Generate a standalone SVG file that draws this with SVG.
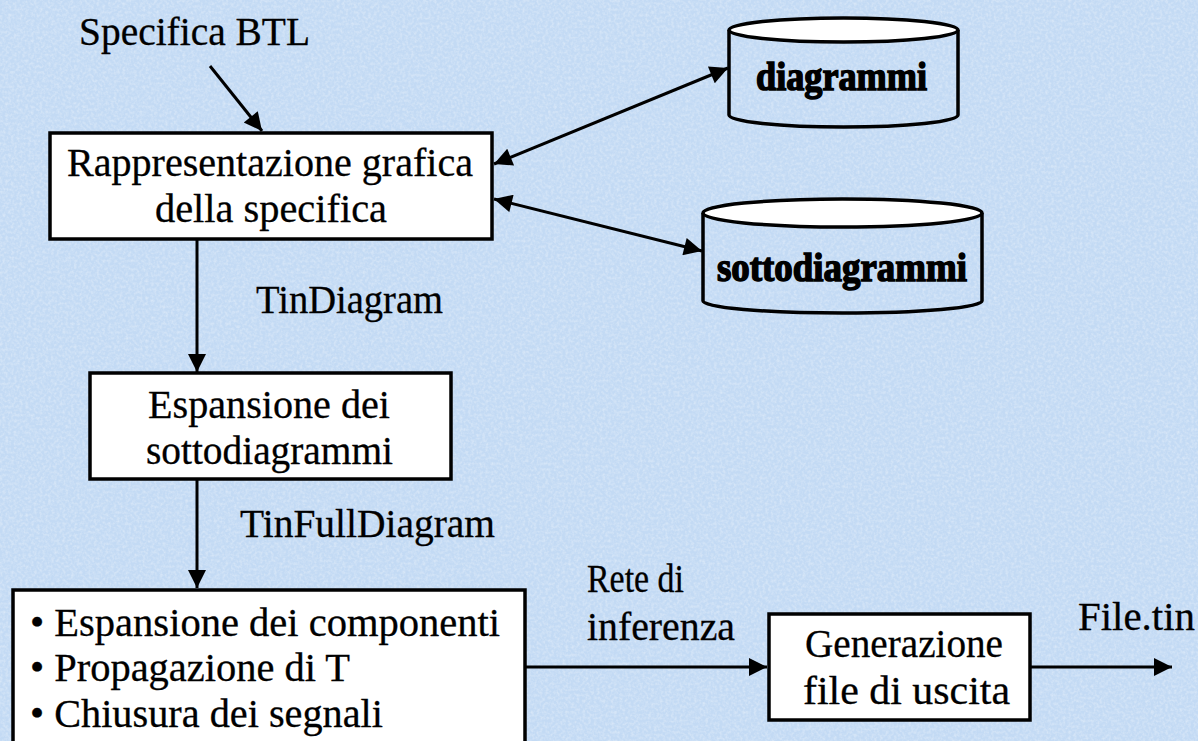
<svg xmlns="http://www.w3.org/2000/svg" width="1198" height="741" viewBox="0 0 1198 741">
<defs>
<style>
.t{font-family:"Liberation Serif","Times New Roman",serif;font-size:39px;fill:#000;stroke:#000;stroke-width:0.3}
.db{font-family:"Liberation Serif","Times New Roman",serif;font-size:40px;font-weight:bold;fill:#000;stroke:#000;stroke-width:1.5}
.box{fill:#fff;stroke:#000;stroke-width:3.5}
.cyl{fill:none;stroke:#000;stroke-width:3.5}
.top{fill:#fff;stroke:#000;stroke-width:3.5}
.ln{fill:none;stroke:#000;stroke-width:3}
</style>
<marker id="ah" viewBox="0 0 10 10" refX="10" refY="5" markerWidth="7.5" markerHeight="6" orient="auto-start-reverse" markerUnits="strokeWidth">
<path d="M0,0 L10,5 L0,10 z" fill="#000"/>
</marker>
<filter id="noise" x="0" y="0" width="100%" height="100%">
<feTurbulence type="fractalNoise" baseFrequency="0.35" numOctaves="2" seed="3" result="n"/>
<feColorMatrix type="matrix" values="0 0 0 0 1  0 0 0 0 1  0 0 0 0 1  0 0 0 -1.2 0.75"/>
</filter>
</defs>
<rect x="0" y="0" width="1198" height="741" fill="#c3daf4"/>
<rect x="0" y="0" width="1198" height="741" filter="url(#noise)" opacity="0.55"/>

<g id="connectors">
<line class="ln" x1="210" y1="66" x2="262" y2="131" marker-end="url(#ah)"/>
<line class="ln" x1="494" y1="164" x2="728" y2="68" marker-start="url(#ah)" marker-end="url(#ah)"/>
<line class="ln" x1="494" y1="199" x2="702" y2="251" marker-start="url(#ah)" marker-end="url(#ah)"/>
<line class="ln" x1="197" y1="240" x2="197" y2="372" marker-end="url(#ah)"/>
<line class="ln" x1="197" y1="479" x2="197" y2="588" marker-end="url(#ah)"/>
<line class="ln" x1="525" y1="667" x2="767" y2="667" marker-end="url(#ah)"/>
<line class="ln" x1="1030" y1="667" x2="1172" y2="667" marker-end="url(#ah)"/>
<text class="t" x="79" y="45" textLength="231" lengthAdjust="spacingAndGlyphs">Specifica BTL</text>
<text class="t" x="256" y="313" textLength="187" lengthAdjust="spacingAndGlyphs">TinDiagram</text>
<text class="t" x="240" y="537" textLength="255" lengthAdjust="spacingAndGlyphs">TinFullDiagram</text>
<text class="t" x="587" y="592" textLength="97" lengthAdjust="spacingAndGlyphs">Rete di</text>
<text class="t" x="587" y="640" textLength="148" lengthAdjust="spacingAndGlyphs">inferenza</text>
<text class="t" x="1078" y="630" textLength="117" lengthAdjust="spacingAndGlyphs">File.tin</text>
</g>

<g id="n-rappresentazione">
<rect class="box" x="50" y="133" width="442" height="106"/>
<text class="t" x="67" y="176" textLength="406" lengthAdjust="spacingAndGlyphs">Rappresentazione grafica</text>
<text class="t" x="155" y="222" textLength="232" lengthAdjust="spacingAndGlyphs">della specifica</text>
</g>

<g id="n-diagrammi">
<path class="cyl" d="M729,30 L729,115 A114.5,12 0 0 0 958,115 L958,30"/>
<ellipse class="top" cx="843.5" cy="30" rx="114.5" ry="12"/>
<text class="db" x="756" y="90" textLength="171" lengthAdjust="spacingAndGlyphs">diagrammi</text>
</g>

<g id="n-sottodiagrammi">
<path class="cyl" d="M703,213 L703,301 A139.5,12 0 0 0 982,301 L982,213"/>
<ellipse class="top" cx="842.5" cy="213" rx="139.5" ry="14"/>
<text class="db" x="717" y="281" textLength="250" lengthAdjust="spacingAndGlyphs">sottodiagrammi</text>
</g>

<g id="n-espansione-sotto">
<rect class="box" x="90" y="373" width="361" height="106"/>
<text class="t" x="148" y="418" textLength="242" lengthAdjust="spacingAndGlyphs">Espansione dei</text>
<text class="t" x="146" y="464" textLength="247" lengthAdjust="spacingAndGlyphs">sottodiagrammi</text>
</g>

<g id="n-espansione-comp">
<rect class="box" x="13" y="590" width="512" height="170"/>
<text class="t" x="30" y="636" textLength="470" lengthAdjust="spacingAndGlyphs">• Espansione dei componenti</text>
<text class="t" x="30" y="681" textLength="320" lengthAdjust="spacingAndGlyphs">• Propagazione di T</text>
<text class="t" x="30" y="727" textLength="353" lengthAdjust="spacingAndGlyphs">• Chiusura dei segnali</text>
</g>

<g id="n-generazione">
<rect class="box" x="769" y="614" width="261" height="106"/>
<text class="t" x="805" y="657" textLength="198" lengthAdjust="spacingAndGlyphs">Generazione</text>
<text class="t" x="803" y="704" textLength="207" lengthAdjust="spacingAndGlyphs">file di uscita</text>
</g>
</svg>
